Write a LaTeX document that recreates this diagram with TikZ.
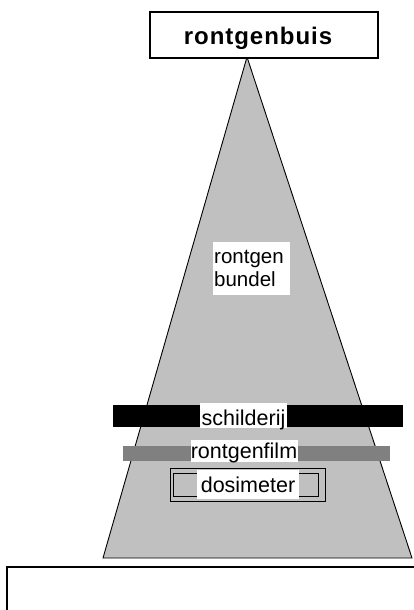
\documentclass[tikz,border=0pt]{standalone}
\usepackage{fontspec}
\setmainfont{Liberation Sans}
\newfontfamily\buisfont[LetterSpace=4]{Liberation Sans}
\definecolor{beam}{HTML}{C0C0C0}
\definecolor{filmgray}{HTML}{808080}
\begin{document}
\begin{tikzpicture}[x=1pt,y=-1pt,
  whitebox/.style={fill=white, inner sep=0pt},
  lbl/.style={inner sep=0pt, font=\fontsize{21.5}{23}\selectfont},
  edge/.style={draw=black, line width=0.9pt}]
\useasboundingbox (0,0) rectangle (413,610);
\fill[white] (0,0) rectangle (413,610);

% X-ray beam (cone)
\coordinate (apex) at (247,57);
\coordinate (bl) at (103,558);
\coordinate (br) at (412,558);
\filldraw[fill=beam, edge] (apex) -- (br) -- (bl) -- cycle;

% floor / table outline
\coordinate (floorA) at (7,640);
\coordinate (floorB) at (7,567);
\coordinate (floorC) at (440,567);
\draw[line width=1.5pt] (floorA) -- (floorB) -- (floorC);

% X-ray tube
\node[draw, line width=1.4pt, fill=white, minimum width=228pt, minimum height=46pt, inner sep=0pt] (buis) at (264,35) {};
\node[anchor=base, inner sep=0pt, font=\buisfont\bfseries\fontsize{24}{26}\selectfont] (buistext) at (258,45) {rontgenbuis};

% beam label
\node[whitebox, minimum width=77pt, minimum height=53pt] (bundelbox) at (251.5,268.5) {};
\node[lbl, anchor=base west, font=\fontsize{20.5}{23}\selectfont] (bundel1) at (214,263) {rontgen};
\node[lbl, anchor=base west, font=\fontsize{20.5}{23}\selectfont] (bundel2) at (214,286) {bundel};

% painting
\fill[black] (113,405) rectangle (403,427);
\node[whitebox, lbl, minimum width=87pt, text height=22pt, text depth=3pt, anchor=base] (schilderij) at (243.5,425) {schilderij};

% film
\fill[filmgray] (123,446) rectangle (390,461);
\node[whitebox, lbl, minimum width=107pt, text height=18pt, text depth=4pt, anchor=base] (film) at (244,458) {rontgenfilm};

% dosimeter
\draw[line width=1pt] (170,468) rectangle (325,501);
\draw[line width=1pt] (173,473) rectangle (318,496);
\node[whitebox, lbl, minimum width=102pt, text height=22pt, text depth=7pt, anchor=base] (dosimeter) at (248,492) {dosimeter};
\end{tikzpicture}
\end{document}
